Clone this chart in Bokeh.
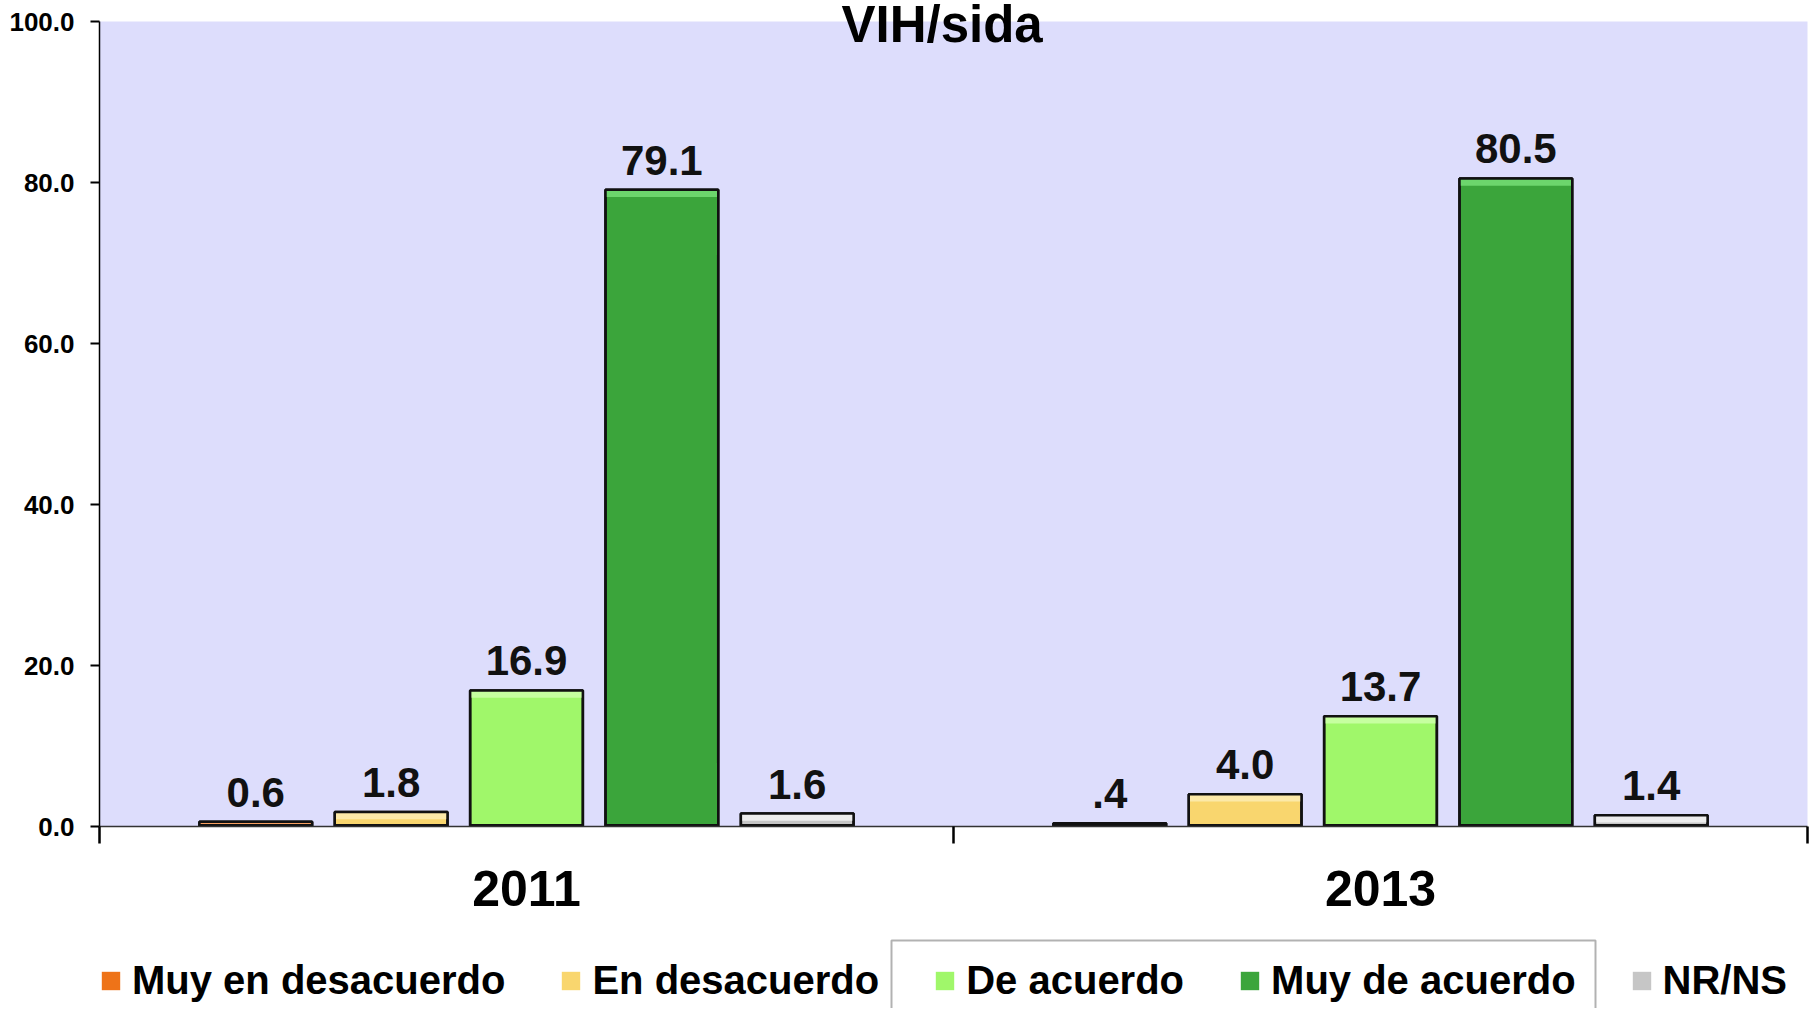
from bokeh.plotting import figure
from bokeh.layouts import column
from bokeh.models import (ColumnDataSource, Range1d, FixedTicker, Legend, LegendItem,
                          LabelSet, Title, NumeralTickFormatter, BoxAnnotation)
from bokeh.core.properties import value
from bokeh.embed import file_html
from bokeh.resources import INLINE

# ---- data ----
years = ["2011", "2013"]
categories = ["Muy en desacuerdo", "En desacuerdo", "De acuerdo", "Muy de acuerdo", "NR/NS"]
values_2011 = [0.6, 1.8, 16.9, 79.1, 1.6]
values_2013 = [0.4, 4.0, 13.7, 80.5, 1.4]
labels_2011 = ["0.6", "1.8", "16.9", "79.1", "1.6"]
labels_2013 = [".4", "4.0", "13.7", "80.5", "1.4"]
y_ticks = [0, 20, 40, 60, 80, 100]
title_text = "VIH/sida"

# ---- style ----
colors = ["#EE7318", "#F9D66E", "#A0F76A", "#3BA53B", "#C6C6C6"]
highlights = ["#F8A060", "#FCE9A8", "#C6FFA0", "#6CD66C", "#EDEDED"]
FONT = "Liberation Sans"
bar_w = 0.132
step = 0.1585

p = figure(width=1811, height=930, output_backend="svg", toolbar_location=None,
           x_range=Range1d(0, 2), y_range=Range1d(0, 100),
           min_border_left=99, min_border_right=4, min_border_top=21, min_border_bottom=104)
p.background_fill_color = "#DDDDFC"
p.border_fill_color = "white"
p.outline_line_color = None
p.xgrid.visible = False
p.ygrid.visible = False

# legend strip figure (frame aligned with the chart's frame)
lg = figure(width=1811, height=78, output_backend="svg", toolbar_location=None,
            x_range=Range1d(0, 2), y_range=Range1d(500, 501),
            x_axis_type=None, y_axis_type=None,
            min_border_left=99, min_border_right=4, min_border_top=0, min_border_bottom=0)
lg.extra_x_ranges = {"px": Range1d(0, 1708)}
lg.extra_y_ranges = {"px": Range1d(0, 78)}
lg.outline_line_color = None
lg.xgrid.visible = False
lg.ygrid.visible = False
lg.background_fill_color = "white"
lg.border_fill_color = "white"

swatches = []
for j, cat in enumerate(categories):
    vals = [values_2011[j], values_2013[j]]
    labs = [labels_2011[j], labels_2013[j]]
    xs = [i + 0.5 + (j - 2) * step for i in range(len(years))]
    hl_bottom = [max(0.0, v - 0.9) for v in vals]
    src = ColumnDataSource(dict(x=xs, top=vals, lab=labs, hb=hl_bottom,
                                x0=[x - bar_w / 2 for x in xs], x1=[x + bar_w / 2 for x in xs],
                                zero=[0, 0]))
    p.vbar(x="x", top="top", width=bar_w, bottom=0, source=src,
           fill_color=colors[j], line_color="#111111", line_width=2.5)
    p.vbar(x="x", top="top", bottom="hb", width=bar_w, source=src,
           fill_color=highlights[j], line_color=None)
    p.vbar(x="x", top="top", width=bar_w, bottom=0, source=src,
           fill_color=None, line_color="#111111", line_width=2.5)
    p.segment(x0="x0", x1="x1", y0="zero", y1="zero", source=src,
              line_color="#111111", line_width=5)
    ls = LabelSet(x="x", y="top", text="lab", source=src, y_offset=15,
                  text_align="center", text_baseline="alphabetic",
                  text_font=value(FONT), text_font_style="bold", text_font_size="42px",
                  text_color="#111111")
    p.add_layout(ls)
    # same series as legend swatches in the legend strip (outside its visible y range)
    swatches.append(lg.vbar(x="x", top="top", width=bar_w, bottom=0, source=src,
                            fill_color=colors[j], line_color=None))

# y axis
p.yaxis.ticker = FixedTicker(ticks=y_ticks, minor_ticks=[])
p.yaxis.formatter = NumeralTickFormatter(format="0.0")
p.yaxis.major_label_text_font = FONT
p.yaxis.major_label_text_font_style = "bold"
p.yaxis.major_label_text_font_size = "26px"
p.yaxis.major_label_text_color = "black"
p.yaxis.major_tick_out = 9
p.yaxis.major_tick_in = 0
p.yaxis.major_tick_line_width = 2
p.yaxis.major_tick_line_color = "black"
p.yaxis.axis_line_color = "black"
p.yaxis.axis_line_width = 1.5
p.yaxis.major_label_standoff = 16

# x axis
p.xaxis.ticker = FixedTicker(ticks=[i + 0.5 for i in range(len(years))],
                             minor_ticks=list(range(len(years) + 1)))
p.xaxis.major_label_overrides = {i + 0.5: y for i, y in enumerate(years)}
p.xaxis.major_tick_out = 0
p.xaxis.major_tick_in = 0
p.xaxis.minor_tick_out = 17
p.xaxis.minor_tick_in = 0
p.xaxis.minor_tick_line_width = 2.5
p.xaxis.minor_tick_line_color = "black"
p.xaxis.axis_line_color = "#333333"
p.xaxis.axis_line_width = 1.5
p.xaxis.major_label_text_font = FONT
p.xaxis.major_label_text_font_style = "bold"
p.xaxis.major_label_text_font_size = "50px"
p.xaxis.major_label_text_color = "black"
p.xaxis.major_label_standoff = 27

# title overlapping frame top
p.title = Title(text=title_text, align="left", standoff=-62, offset=742,
                text_font=FONT, text_font_style="bold", text_font_size="51px",
                text_color="black")

# legend
legend = Legend(items=[LegendItem(label=c, renderers=[r], index=0) for c, r in zip(categories, swatches)],
                orientation="horizontal", location=(0, 5),
                glyph_width=23, glyph_height=23, label_standoff=10, spacing=54,
                padding=0, margin=0, border_line_color=None, background_fill_alpha=0,
                label_text_font=FONT, label_text_font_style="bold",
                label_text_font_size="40px", label_text_color="black")
lg.add_layout(legend, "center")

# frame seen around two legend entries in the original
lg.add_layout(BoxAnnotation(left=792, right=1496, top=68, bottom=-10,
                            x_range_name="px", y_range_name="px",
                            fill_alpha=0, line_color="black", line_width=2))

layout = column(p, lg, spacing=0)
open("out.html", "w").write(file_html(layout, INLINE))
